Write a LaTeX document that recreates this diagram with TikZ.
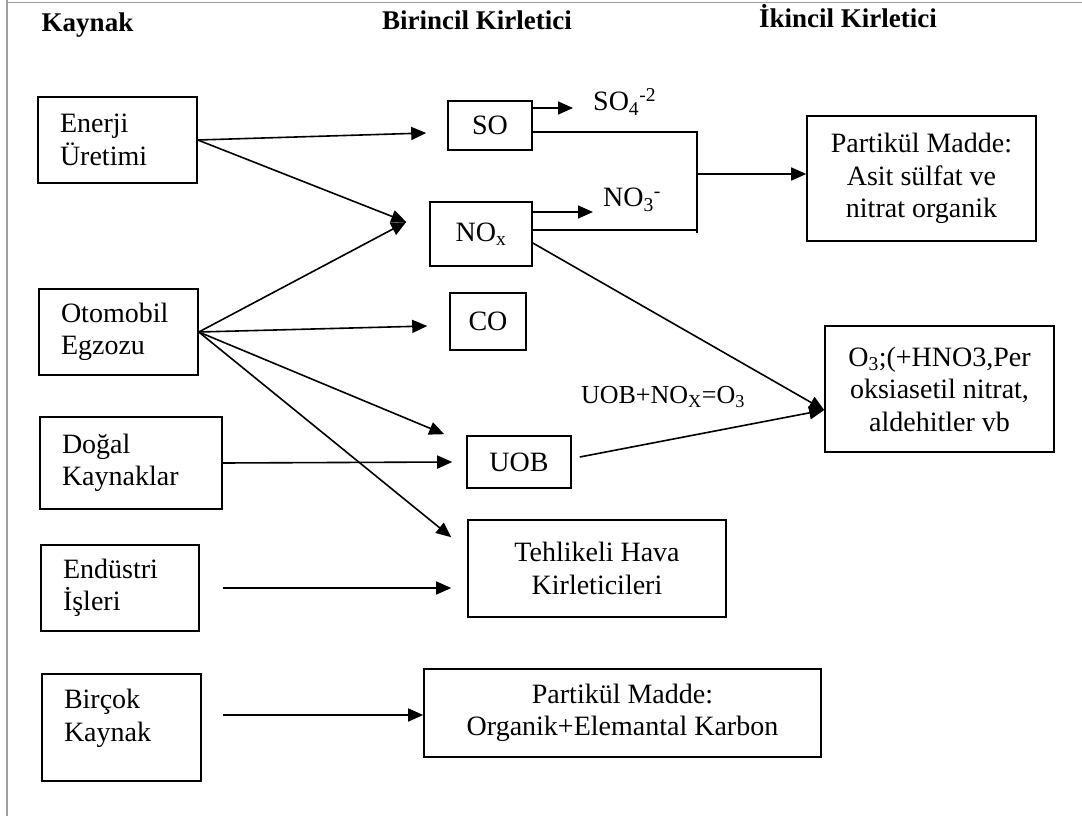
\documentclass[tikz,border=0pt]{standalone}
\usepackage{fontspec}
\setmainfont{Liberation Serif}
\usetikzlibrary{arrows.meta}
\begin{document}
\begin{tikzpicture}[x=1pt,y=-1pt,
  every node/.style={font=\fontsize{28}{32.5}\selectfont},
  box/.style={draw,line width=1.6pt,inner sep=0pt,align=center},
  lbox/.style={draw,line width=1.6pt,inner xsep=22pt,inner ysep=0pt,align=left},
  lbl/.style={inner sep=0pt,anchor=west},
  hdr/.style={font=\fontsize{27}{30}\selectfont\bfseries,anchor=base},
  con/.style={line width=1.6pt},
  arr/.style={con,-{Triangle[length=15pt,width=13pt]}},
  frameline/.style={draw=gray!75,line width=1.8pt}]
\useasboundingbox (0,0) rectangle (1082,816);
% frame
\draw[frameline] (7,0) -- (7,816);
\draw[frameline] (7,2.5) -- (1082,2.5);
% headers
\node[hdr] (h1) at (87.5,32) {Kaynak};
\node[hdr] (h2) at (477,29.5) {Birincil Kirletici};
\node[hdr] (h3) at (848,28) {İkincil Kirletici};
% sources
\node[lbox,text width=115pt,minimum height=86pt] (en) at (117.5,140) {Enerji\\Üretimi};
\node[lbox,text width=115pt,minimum height=86pt] (oto) at (118.5,332) {Otomobil\\Egzozu};
\node[lbox,text width=138pt,minimum height=92pt] (dog) at (131,463) {Doğal\\Kaynaklar};
\node[lbox,text width=114pt,minimum height=86pt] (end) at (120,588) {Endüstri\\İşleri};
\node[lbox,text width=115pt,minimum height=107pt,text depth=57pt] (bir) at (121.5,727.5) {Birçok\\Kaynak};
% primary
\node[box,minimum width=84pt,minimum height=49pt] (so) at (490,125.5) {SO};
\node[box,minimum width=102pt,minimum height=64pt] (nox) at (481,234) {NO\textsubscript{x}};
\node[box,minimum width=76pt,minimum height=57pt] (co) at (488,321.5) {CO};
\node[box,minimum width=104pt,minimum height=52pt] (uob) at (519,462) {UOB};
\node[box,minimum width=258pt,minimum height=97pt] (teh) at (597,568.5) {Tehlikeli Hava\\Kirleticileri};
\node[box,minimum width=397pt,minimum height=88pt] (pmb) at (622.5,713) {Partikül Madde:\\Organik+Elemantal Karbon};
% secondary
\node[box,minimum width=229pt,minimum height=125pt] (pmt) at (921.5,178.5) {Partikül Madde:\\Asit sülfat ve\\nitrat organik};
\node[box,minimum width=229pt,minimum height=126pt] (o3) at (939.5,389) {O\textsubscript{3};(+HNO3,Per\\oksiasetil nitrat,\\aldehitler vb};
% labels
\node[lbl] (so4) at (593,102) {SO\textsubscript{4}\textsuperscript{-2}};
\node[lbl] (no3) at (603,200) {NO\textsubscript{3}\textsuperscript{-}};
\node[font=\fontsize{26}{30}\selectfont] (eq) at (663,397) {UOB+NO\textsubscript{X}=O\textsubscript{3}};
% connectors from sources
\draw[arr] (en.east) -- ([xshift=-21pt,yshift=-7.5pt]so.west);
\draw[arr] (en.east) -- ([xshift=-23pt,yshift=12pt]nox.west);
\draw[arr] (oto.east) -- ([xshift=-23pt,yshift=12pt]nox.west);
\draw[arr] (oto.east) -- ([xshift=-22pt,yshift=-4.5pt]co.west);
\draw[arr] (oto.east) -- ([xshift=-22pt,yshift=1pt]uob.north west);
\draw[arr] (oto.east) -- ([xshift=-16pt,yshift=-18pt]teh.north west);
\draw[arr] (dog.east) -- ([xshift=-14pt]uob.west);
\draw[arr] ([xshift=23pt]end.east) -- ([xshift=-16pt,yshift=-19.5pt]teh.west);
\draw[arr] ([xshift=21pt,yshift=12.5pt]bir.east) -- ([yshift=-2pt]pmb.west);
% primary to secondary
\draw[arr] ([yshift=17.5pt]so.east) -- ([xshift=-20pt,yshift=-6pt]so4.west);
\draw[arr] ([yshift=22pt]nox.east) -- ([xshift=-10pt,yshift=-12pt]no3.west);
\coordinate (jb) at (697,233);
\coordinate (J) at (697,174);
\draw[con] ([yshift=-6.5pt]so.east) -| (jb);
\draw[con] ([yshift=4pt]nox.east) -| (jb);
\draw[arr] (J) -- (J -| pmt.west);
\draw[arr] ([yshift=-9pt]nox.east) -- ([yshift=-21pt]o3.west);
\draw[arr] ([xshift=8pt,yshift=5pt]uob.east) -- ([yshift=-21pt]o3.west);
\end{tikzpicture}
\end{document}
